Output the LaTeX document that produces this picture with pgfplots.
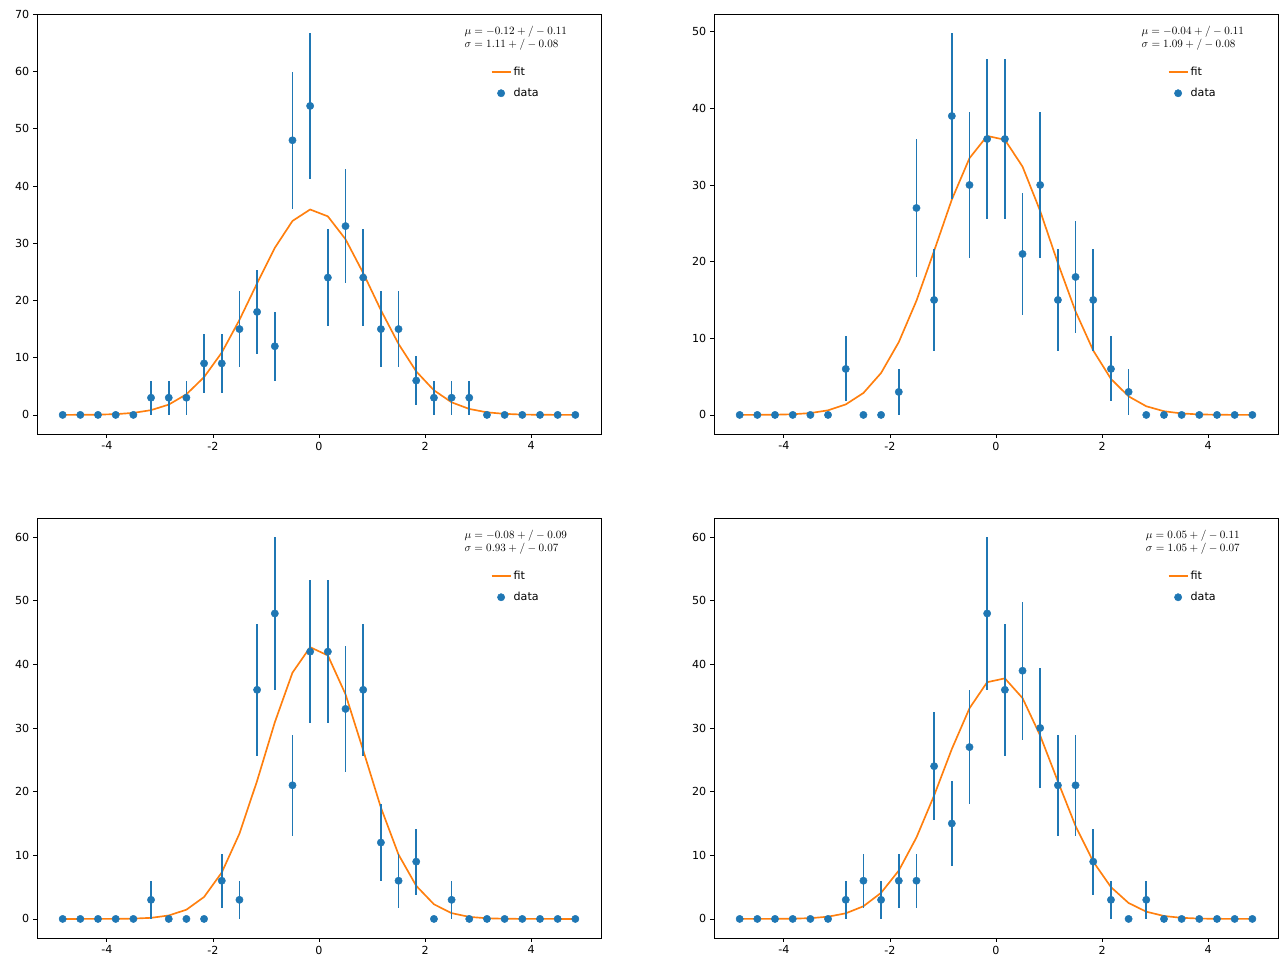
\documentclass[border=0pt]{standalone}
\usepackage{pgfplots}
\usepackage{pgfplotstable}
\pgfplotsset{compat=1.18}
\usepackage{fontspec}
\setmainfont{DejaVu Sans}
\definecolor{c0}{HTML}{1F77B4}
\definecolor{c1}{HTML}{FF7F0E}
% columns: x, data y, data err, fit
\pgfplotstableread{
x y e f
-4.833 0 0 0.004
-4.5 0 0 0.015
-4.167 0 0 0.046
-3.833 0 0 0.13
-3.5 0 0 0.35
-3.167 3 3 0.83
-2.833 3 3 1.8
-2.5 3 3 3.6
-2.167 9 5.196 6.6
-1.833 9 5.196 10.9
-1.5 15 6.708 16.6
-1.167 18 7.348 23.0
-0.833 12 6 29.2
-0.5 48 12 33.9
-0.167 54 12.73 35.9
0.167 24 8.485 34.7
0.5 33 9.95 30.7
0.833 24 8.485 24.8
1.167 15 6.708 18.3
1.5 15 6.708 12.4
1.833 6 4.243 7.6
2.167 3 3 4.3
2.5 3 3 2.2
2.833 3 3 1.04
3.167 0 0 0.45
3.5 0 0 0.18
3.833 0 0 0.06
4.167 0 0 0.02
4.5 0 0 0.006
4.833 0 0 0.002
}\tA
\pgfplotstableread{
x y e f
-4.833 0 0 0.002
-4.5 0 0 0.008
-4.167 0 0 0.028
-3.833 0 0 0.086
-3.5 0 0 0.24
-3.167 0 0 0.60
-2.833 6 4.243 1.37
-2.5 0 0 2.86
-2.167 0 0 5.47
-1.833 3 3 9.5
-1.5 27 9 14.9
-1.167 15 6.708 21.4
-0.833 39 10.82 28.1
-0.5 30 9.487 33.5
-0.167 36 10.39 36.4
0.167 36 10.39 35.9
0.5 21 7.937 32.4
0.833 30 9.487 26.6
1.167 15 6.708 19.8
1.5 18 7.348 13.5
1.833 15 6.708 8.4
2.167 6 4.243 4.7
2.5 3 3 2.42
2.833 0 0 1.13
3.167 0 0 0.48
3.5 0 0 0.19
3.833 0 0 0.066
4.167 0 0 0.02
4.5 0 0 0.006
4.833 0 0 0.002
}\tB
\pgfplotstableread{
x y e f
-4.833 0 0 0.0001
-4.5 0 0 0.0005
-4.167 0 0 0.003
-3.833 0 0 0.012
-3.5 0 0 0.05
-3.167 3 3 0.17
-2.833 0 0 0.54
-2.5 0 0 1.45
-2.167 0 0 3.45
-1.833 6 4.243 7.3
-1.5 3 3 13.4
-1.167 36 10.39 21.7
-0.833 48 12 30.9
-0.5 21 7.937 38.7
-0.167 42 11.22 42.7
0.167 42 11.22 41.4
0.5 33 9.95 35.3
0.833 36 10.39 26.5
1.167 12 6 17.5
1.5 6 4.243 10.1
1.833 9 5.196 5.2
2.167 0 0 2.3
2.5 3 3 0.91
2.833 0 0 0.32
3.167 0 0 0.10
3.5 0 0 0.027
3.833 0 0 0.007
4.167 0 0 0.002
4.5 0 0 0.0004
4.833 0 0 0.0001
}\tC
\pgfplotstableread{
x y e f
-4.833 0 0 0.001
-4.5 0 0 0.003
-4.167 0 0 0.012
-3.833 0 0 0.04
-3.5 0 0 0.12
-3.167 0 0 0.35
-2.833 3 3 0.88
-2.5 6 4.243 1.99
-2.167 3 3 4.1
-1.833 6 4.243 7.6
-1.5 6 4.243 12.8
-1.167 24 8.485 19.4
-0.833 15 6.708 26.7
-0.5 27 9 33.1
-0.167 48 12 37.2
0.167 36 10.39 37.8
0.5 39 10.82 34.7
0.833 30 9.487 28.8
1.167 21 7.937 21.6
1.5 21 7.937 14.6
1.833 9 5.196 9.0
2.167 3 3 5.0
2.5 0 0 2.5
2.833 3 3 1.14
3.167 0 0 0.46
3.5 0 0 0.17
3.833 0 0 0.056
4.167 0 0 0.017
4.5 0 0 0.005
4.833 0 0 0.001
}\tD
\pgfplotsset{
  panel/.style={
    scale only axis, width=507.6pt, height=378pt, anchor=south west,
    xmin=-5.317, xmax=5.317, xtick={-4,-2,0,2,4},
    tick align=outside, tick pos=left, major tick length=3.5pt,
    tick style={black, line width=0.7pt}, axis line style={line width=0.7pt},
    /pgf/number format/assume math mode=true,
    ticklabel style={font=\fontsize{10}{12}\selectfont},
    legend style={draw=none, fill=none, at={(rel axis cs:0.849,0.885)}, anchor=north,
      font=\fontsize{10}{12}\selectfont, row sep=6pt},
    legend cell align=left,
  },
}
\newcommand{\panel}[5]{% table, x, y, ymax, mu/sigma
  \begin{axis}[panel, at={(#2,#3)}, ymin=#4]
    \addplot[c1, line width=1.5pt, forget plot] table[x=x,y=f]{#1};
    \addlegendimage{c1, line width=1.5pt}
    \addlegendentry{fit}
    \addplot[c0, only marks, mark=*, mark size=3.3pt, mark options={fill=c0, draw=c0},
      error bars/.cd, y dir=both, y explicit,
      error bar style={line width=1.5pt, c0}, error mark=none]
      table[x=x,y=y,y error=e]{#1};
    \addlegendentry{data}
    \node[anchor=north, align=left, font=\fontsize{10}{12}\selectfont, inner sep=0pt]
      at (rel axis cs:0.849,0.972) {#5};
  \end{axis}}
\begin{document}
\begin{tikzpicture}
\useasboundingbox (0,0) rectangle (1158.3pt,-874.8pt);
\panel{\tA}{33.3pt}{-390.6pt}{-3.34, ymax=70.07, ytick={0,10,...,70}}{$\mu=-0.12+/-0.11$\\$\sigma=1.11+/-0.08$}
\panel{\tB}{642.6pt}{-390.6pt}{-2.49, ymax=52.31, ytick={0,10,...,50}}{$\mu=-0.04+/-0.11$\\$\sigma=1.09+/-0.08$}
\panel{\tC}{33.3pt}{-844.2pt}{-3, ymax=63, ytick={0,10,...,60}}{$\mu=-0.08+/-0.09$\\$\sigma=0.93+/-0.07$}
\panel{\tD}{642.6pt}{-844.2pt}{-3, ymax=63, ytick={0,10,...,60}}{$\mu=0.05+/-0.11$\\$\sigma=1.05+/-0.07$}
\end{tikzpicture}
\end{document}
